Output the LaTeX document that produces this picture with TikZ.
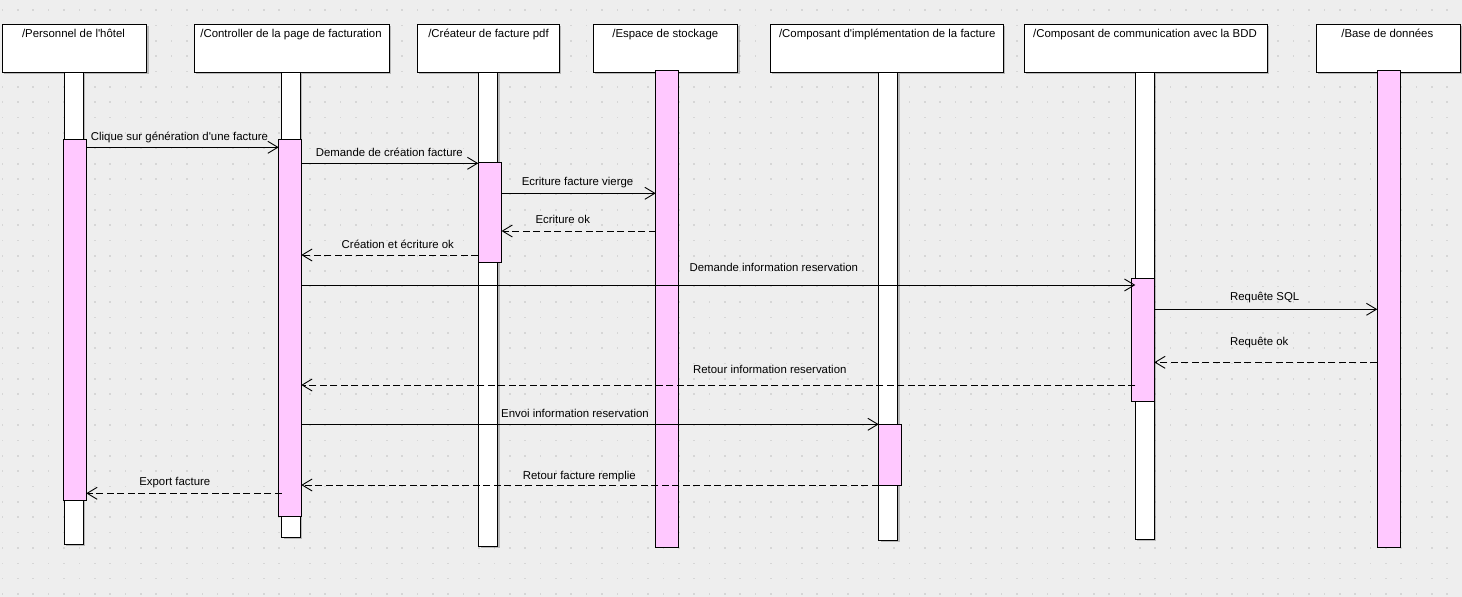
\documentclass[tikz,border=0pt]{standalone}
\usepackage{fontspec}
\setmainfont{Liberation Sans}
\usetikzlibrary{arrows.meta,shadows}
\definecolor{bgc}{RGB}{238,238,238}
\definecolor{dotc}{RGB}{214,214,214}
\definecolor{pinkc}{RGB}{255,200,255}
\tikzset{
  lbl/.style={font=\fontsize{11.4}{13.7}\selectfont, inner sep=0pt, anchor=base},
  shad/.style={drop shadow={shadow xshift=2pt, shadow yshift=-2pt, fill=black, opacity=0.22}},
  hdrbox/.style={draw=black, line width=0.9pt, fill=white, inner sep=0pt, outer sep=0pt, shad},
  lifebar/.style={draw=black, line width=0.9pt, fill=white, inner sep=0pt, outer sep=0pt, shad},
  pinkbar/.style={draw=black, line width=0.9pt, fill=pinkc, inner sep=0pt, outer sep=0pt},
  msg/.style={line width=0.9pt, -{Straight Barb[length=10pt,width=12pt,line width=0.9pt]}},
  ret/.style={msg, dash pattern=on 7pt off 3.5pt},
}
\newcommand\mybox[6]{%
  \pgfmathsetmacro\mbcx{(#3+#5)/2}\pgfmathsetmacro\mbcy{(#4+#6)/2}%
  \pgfmathsetmacro\mbw{#5-#3}\pgfmathsetmacro\mbh{#6-#4}%
  \node[#1, minimum width=\mbw pt, minimum height=\mbh pt] (#2) at (\mbcx,\mbcy) {};}
\begin{document}
\begin{tikzpicture}[x=1pt,y=-1pt]
\useasboundingbox (0,0) rectangle (1462,597);
\fill[bgc] (0,0) rectangle (1462,597);
\foreach \i in {0,...,95}{\foreach \j in {0,...,38}{%
  \fill[dotc] ({2.5+15.37*\i-0.8},{10+15.37*\j-0.8}) rectangle ++(1.6,1.6);}}

% header boxes
\mybox{hdrbox}{h1}{2.3}{24.3}{146.7}{72.3}
\mybox{hdrbox}{h2}{194.3}{24.3}{389.3}{72.3}
\mybox{hdrbox}{h3}{417.3}{24.3}{559.3}{72.3}
\mybox{hdrbox}{h4}{593.3}{24.3}{737.7}{72.3}
\mybox{hdrbox}{h5}{770.3}{24.3}{1003}{72.3}
\mybox{hdrbox}{h6}{1024.3}{24.3}{1267.3}{72.3}
\mybox{hdrbox}{h7}{1316.3}{24.3}{1460.7}{72.3}

\node[lbl] (t1) at (73.5,37) {/Personnel de l\textquotesingle hôtel};
\node[lbl] (t2) at (291,37) {/Controller de la page de facturation};
\node[lbl] (t3) at (488.5,37) {/Créateur de facture pdf};
\node[lbl] (t4) at (665.3,37) {/Espace de stockage};
\node[lbl] (t5) at (887.2,37) {/Composant d\textquotesingle implémentation de la facture};
\node[lbl] (t6) at (1145,37) {/Composant de communication avec la BDD};
\node[lbl] (t7) at (1387.3,37) {/Base de données};

% lifelines
\mybox{lifebar}{L1}{64.3}{72.3}{83.3}{544.3}
\mybox{lifebar}{L2}{281.7}{72.3}{300.3}{537.3}
\mybox{lifebar}{L3}{478.7}{72.3}{497.5}{546}
\mybox{pinkbar}{L4}{655.7}{70.3}{678.5}{547}
\mybox{lifebar}{L5}{878.7}{72.3}{897.5}{540.3}
\mybox{lifebar}{L6}{1135.3}{72.3}{1154.3}{539.3}
\mybox{pinkbar}{L7}{1377.3}{70.3}{1400.3}{547.3}

% activations
\mybox{pinkbar}{A1}{63.7}{139.3}{86.3}{500}
\mybox{pinkbar}{A2}{278.7}{139.3}{301.3}{516.3}
\mybox{pinkbar}{A3}{478.3}{162.3}{501.5}{262.3}
\mybox{pinkbar}{A5}{878.7}{424.3}{901.3}{485}
\mybox{pinkbar}{A6}{1131.3}{278.3}{1154.3}{401.3}

% messages
\draw[msg] (A1.east |- 0,147.3) -- (A2.west |- 0,147.3);
\draw[msg] (A2.east |- 0,163.3) -- (A3.west |- 0,163.3);
\draw[msg] (A3.east |- 0,193.3) -- (L4.west |- 0,193.3);
\draw[ret] (L4.west |- 0,231) -- (A3.east |- 0,231);
\draw[ret] (A3.west |- 0,255) -- (A2.east |- 0,255);
\draw[msg] (A2.east |- 0,285) -- (L6.west |- 0,285);
\draw[msg] (A6.east |- 0,309.3) -- (L7.west |- 0,309.3);
\draw[ret] (L7.west |- 0,362.3) -- (A6.east |- 0,362.3);
\draw[ret] (L6.west |- 0,385) -- (A2.east |- 0,385);
\draw[msg] (A2.east |- 0,424.3) -- (A5.west |- 0,424.3);
\draw[ret] (A5.west |- 0,485) -- (A2.east |- 0,485);
\draw[ret] (L2.west |- 0,493.3) -- (A1.east |- 0,493.3);

% message labels
\node[lbl] (l1) at (179.5,140.7) {Clique sur génération d\textquotesingle une facture};
\node[lbl] (l2) at (389.3,156.6) {Demande de création facture};
\node[lbl] (l3) at (577.5,185.4) {Ecriture facture vierge};
\node[lbl] (l4) at (562.8,223.3) {Ecriture ok};
\node[lbl] (l5) at (397.8,248.3) {Création et écriture ok};
\node[lbl] (l6) at (773.8,271.5) {Demande information reservation};
\node[lbl] (l7) at (1264.7,300.9) {Requête SQL};
\node[lbl] (l8) at (1259.2,345.5) {Requête ok};
\node[lbl] (l9) at (769.8,373.2) {Retour information reservation};
\node[lbl] (l10) at (575,417.2) {Envoi information reservation};
\node[lbl] (l11) at (579.3,479.2) {Retour facture remplie};
\node[lbl] (l12) at (174.8,485.5) {Export facture};
\end{tikzpicture}
\end{document}
